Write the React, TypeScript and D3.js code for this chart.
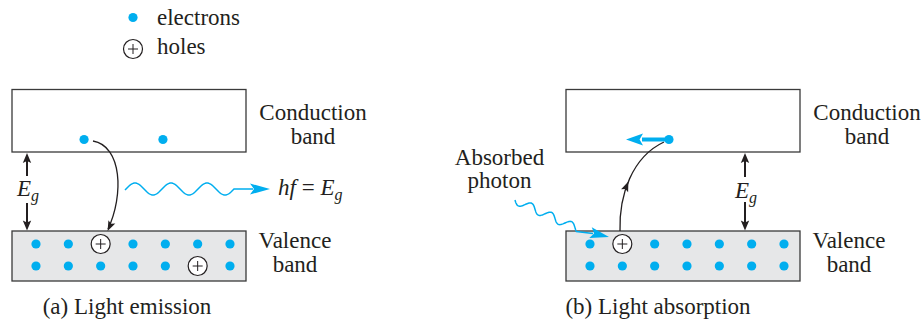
// Energy band diagram - light emission and absorption in a semiconductor

import * as d3 from "d3";

const WIDTH = 924;
const HEIGHT = 324;

const VALENCE_COLUMNS = [0, 1, 2, 3, 4, 5, 6];
const VALENCE_ROWS = [0, 1];

// [row, column] of the holes left in the valence band
const EMISSION_HOLES: [number, number][] = [
  [0, 2],
  [1, 5],
];
const ABSORPTION_HOLES: [number, number][] = [[0, 1]];

// electrons in the conduction band, as a fraction of the band width
const EMISSION_ELECTRONS = [0.308, 0.645];
const ABSORPTION_ELECTRONS = [0.44];

const LEGEND_ITEMS = ["electrons", "holes"];
const CAPTIONS = ["(a) Light emission", "(b) Light absorption"];
const CONDUCTION_LABEL = ["Conduction", "band"];
const VALENCE_LABEL = ["Valence", "band"];
const PHOTON_LABEL = ["Absorbed", "photon"];

const CYAN = "#00aeef";
const INK = "#231f20";
const EDGE = "#3a3a3a";
const BAND_FILL = "#e6e7e8";
const FONT = '"Liberation Serif"';
const FS = 23;

const BAND_W = 234;
const COND_TOP = 89.5;
const COND_BOT = 152;
const VAL_TOP = 231;
const VAL_BOT = 281;

type Pt = [number, number];

const line = d3.line<Pt>();
const rowY = d3.scalePoint<number>().domain(VALENCE_ROWS).range([244, 266]);

// arrow head with a slightly swept back edge
function headPath(tip: Pt, angle: number, len: number, hw: number) {
  const c = Math.cos(angle);
  const s = Math.sin(angle);
  const bx = tip[0] - len * c;
  const by = tip[1] - len * s;
  const nx = tip[0] - len * 0.8 * c;
  const ny = tip[1] - len * 0.8 * s;
  return `M${tip[0]},${tip[1]}L${bx - hw * s},${by + hw * c}L${nx},${ny}L${bx + hw * s},${by - hw * c}Z`;
}

// sine wiggle along a straight line
function wavePoints(a: Pt, b: Pt, amp: number, period: number, phase: number): Pt[] {
  const dx = b[0] - a[0];
  const dy = b[1] - a[1];
  const L = Math.hypot(dx, dy);
  const ux = dx / L;
  const uy = dy / L;
  return d3.range(0, L + 0.01, 0.5).map((s) => {
    const o = amp * Math.sin((2 * Math.PI * s) / period + phase);
    return [a[0] + ux * s - uy * o, a[1] + uy * s + ux * o] as Pt;
  });
}

function bezier(p: Pt[], t: number): Pt {
  const m = 1 - t;
  const w = [m * m * m, 3 * m * m * t, 3 * m * t * t, t * t * t];
  return [d3.sum(p, (q, i) => q[0] * w[i]), d3.sum(p, (q, i) => q[1] * w[i])];
}

function bezierAngle(p: Pt[], t: number) {
  const m = 1 - t;
  const w = [-3 * m * m, 3 * m * m - 6 * m * t, 6 * m * t - 3 * t * t, 3 * t * t];
  const dx = d3.sum(p, (q, i) => q[0] * w[i]);
  const dy = d3.sum(p, (q, i) => q[1] * w[i]);
  return Math.atan2(dy, dx);
}

const cubic = (p: Pt[]) => `M${p[0]}C${p[1]} ${p[2]} ${p[3]}`;

function Label({ x, y, children, anchor = "middle", italic = false }: any) {
  return (
    <text
      x={x}
      y={y}
      textAnchor={anchor}
      fill={INK}
      style={{ fontFamily: FONT, fontSize: FS, fontStyle: italic ? "italic" : "normal" }}
    >
      {children}
    </text>
  );
}

function Electron({ x, y }: { x: number; y: number }) {
  return <circle cx={x} cy={y} r={4.6} fill={CYAN} />;
}

function Hole({ x, y }: { x: number; y: number }) {
  return (
    <g>
      <circle cx={x} cy={y} r={9.5} fill="#fff" stroke={INK} strokeWidth={1.2} />
      <path d={`M${x - 5},${y}H${x + 5}M${x},${y - 5}V${y + 5}`} stroke={INK} strokeWidth={1} />
    </g>
  );
}

function GapArrow({ x, topEnd, botStart, labelY }: any) {
  return (
    <g>
      <path
        d={`M${x},${topEnd}V${COND_BOT + 6}M${x},${botStart}V${VAL_TOP - 6}`}
        stroke={INK}
        strokeWidth={2}
      />
      <path d={headPath([x, COND_BOT + 1], -Math.PI / 2, 10, 4.2)} fill={INK} />
      <path d={headPath([x, VAL_TOP - 0.5], Math.PI / 2, 10, 4.2)} fill={INK} />
      <Label x={x - 10} y={labelY} anchor="start" italic>
        E<tspan dy={5} style={{ fontSize: 16 }}>g</tspan>
      </Label>
    </g>
  );
}

function Bands({ left, holes, electrons }: { left: number; holes: [number, number][]; electrons: number[] }) {
  const bandX = d3.scaleLinear().domain([0, 1]).range([left, left + BAND_W]);
  const colX = d3.scalePoint<number>().domain(VALENCE_COLUMNS).range([left + 24, left + 218]);
  return (
    <g>
      <rect x={left} y={COND_TOP} width={BAND_W} height={COND_BOT - COND_TOP} fill="#fff" stroke={EDGE} strokeWidth={1.3} />
      <rect x={left} y={VAL_TOP} width={BAND_W} height={VAL_BOT - VAL_TOP} fill={BAND_FILL} stroke={EDGE} strokeWidth={1.3} />
      {VALENCE_ROWS.map((r) =>
        VALENCE_COLUMNS.map((c) =>
          holes.some(([hr, hc]) => hr === r && hc === c) ? (
            <Hole key={`${r}-${c}`} x={colX(c)!} y={rowY(r)!} />
          ) : (
            <Electron key={`${r}-${c}`} x={colX(c)!} y={rowY(r)!} />
          )
        )
      )}
      {electrons.map((f, i) => (
        <Electron key={i} x={bandX(f)} y={139.5} />
      ))}
      {CONDUCTION_LABEL.map((s, i) => (
        <Label key={s} x={left + 301} y={120 + i * 23.5}>
          {s}
        </Label>
      ))}
      {VALENCE_LABEL.map((s, i) => (
        <Label key={s} x={left + 283} y={248 + i * 24}>
          {s}
        </Label>
      ))}
    </g>
  );
}

export default function App() {
  // (a) electron drops into a hole, photon leaves
  const dropA: Pt[] = [
    [93, 141],
    [122, 146],
    [124, 195],
    [108, 229],
  ];
  const emitted = wavePoints([125, 189], [234, 189], 6, 36, (-2 * Math.PI * 10) / 36 - Math.PI / 2);
  emitted.push([253, 189]);

  // (b) photon comes in, electron is lifted out of the valence band
  const rise: Pt[] = [
    [620, 231],
    [619, 195],
    [632, 157],
    [664, 142],
  ];
  const tHead = 0.47;
  const absorbed = wavePoints([515, 200], [578, 229], 4, 22, 0);
  absorbed.push([593, 233.5]);

  return (
    <svg
      width={WIDTH}
      height={HEIGHT}
      style={{ position: "absolute", left: 0, top: 0, background: "#fff", fontFamily: FONT }}
    >
      {/* legend */}
      <Electron x={133} y={17.5} />
      <Hole x={133} y={49} />
      {LEGEND_ITEMS.map((s, i) => (
        <Label key={s} x={157} y={25 + i * 29} anchor="start">
          {s}
        </Label>
      ))}

      {/* (a) light emission */}
      <Bands left={12} holes={EMISSION_HOLES} electrons={EMISSION_ELECTRONS} />
      <GapArrow x={27} topEnd={176} botStart={203} labelY={196} />
      <path d={cubic(dropA)} fill="none" stroke={INK} strokeWidth={1.3} />
      <path d={headPath([107.6, 231], bezierAngle(dropA, 1), 10, 3.8)} fill={INK} />
      <path d={line(emitted)!} fill="none" stroke={CYAN} strokeWidth={1.5} />
      <path d={headPath([270, 189], 0, 20, 5.5)} fill={CYAN} />
      <Label x={278} y={195} anchor="start">
        <tspan style={{ fontStyle: "italic" }}>hf</tspan>
        <tspan> = </tspan>
        <tspan style={{ fontStyle: "italic" }}>E</tspan>
        <tspan dy={5} style={{ fontStyle: "italic", fontSize: 16 }}>
          g
        </tspan>
      </Label>
      <Label x={127} y={314}>
        {CAPTIONS[0]}
      </Label>

      {/* (b) light absorption */}
      <Bands left={566} holes={ABSORPTION_HOLES} electrons={ABSORPTION_ELECTRONS} />
      <GapArrow x={745} topEnd={177} botStart={202} labelY={198} />
      <path d={cubic(rise)} fill="none" stroke={INK} strokeWidth={1.3} />
      <path d={headPath(bezier(rise, tHead), bezierAngle(rise, tHead), 10, 3.8)} fill={INK} />
      <path d="M669,139.5H642" stroke={CYAN} strokeWidth={4} />
      <path d={headPath([626, 139.5], Math.PI, 17, 6)} fill={CYAN} />
      <path d={line(absorbed)!} fill="none" stroke={CYAN} strokeWidth={1.5} />
      <path d={headPath([609, 237], Math.atan2(7, 30), 19, 5.5)} fill={CYAN} />
      {PHOTON_LABEL.map((s, i) => (
        <Label key={s} x={499.5} y={165 + i * 23}>
          {s}
        </Label>
      ))}
      <Label x={658} y={314}>
        {CAPTIONS[1]}
      </Label>
    </svg>
  );
}
